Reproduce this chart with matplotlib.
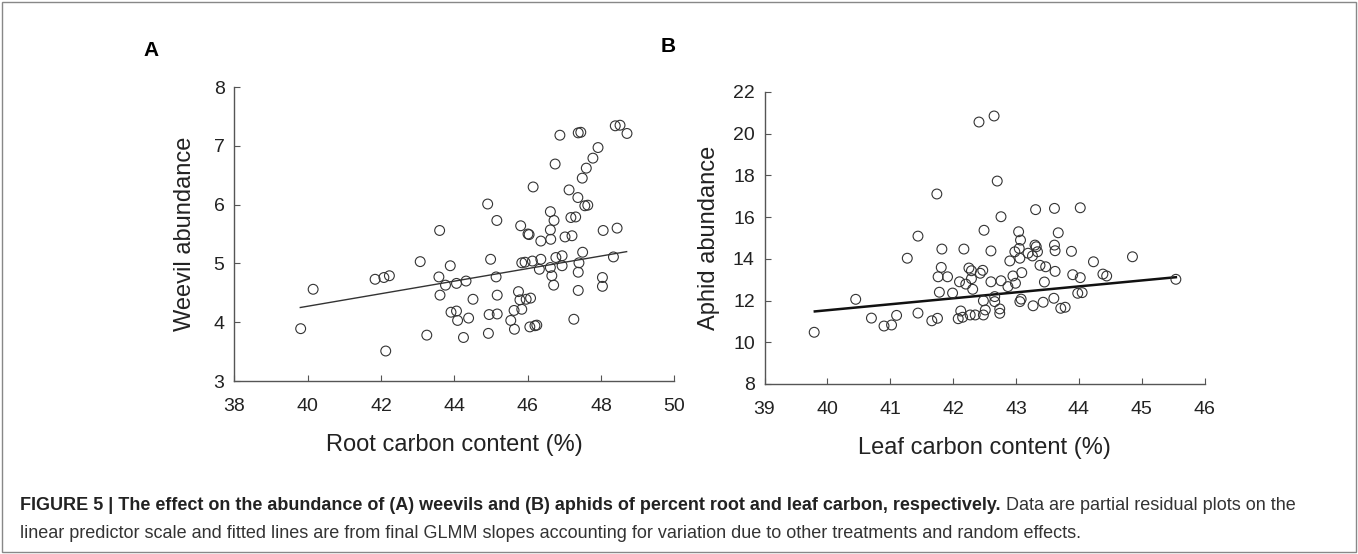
import matplotlib
matplotlib.use("Agg")
import matplotlib.pyplot as plt
from matplotlib.patches import Rectangle

plt.rcParams['font.family'] = ['Liberation Sans', 'DejaVu Sans']

# Panel A: weevils vs root carbon
root_c = [44.91, 45.16, 43.60, 39.81, 40.15, 41.84, 42.08, 42.23, 42.13, 43.07,
          43.89, 43.58, 43.76, 43.61, 44.06, 44.32, 44.99, 45.14, 45.17, 44.51,
          43.91, 44.06, 44.09, 44.39, 44.95, 45.17, 43.25, 44.25, 44.93, 46.88,
          47.38, 47.45, 48.39, 48.52, 48.71, 47.92, 47.78, 46.75, 47.60, 47.49,
          46.15, 47.13, 47.37, 47.56, 47.64, 46.62, 46.72, 47.18, 47.31, 45.81,
          46.01, 46.62, 46.63, 46.36, 47.02, 47.21, 48.06, 48.44, 47.50, 45.84,
          45.93, 46.13, 46.36, 46.77, 46.94, 48.34, 46.32, 46.62, 46.66, 46.71,
          46.94, 47.40, 47.38, 47.38, 48.04, 48.04, 45.75, 45.79, 45.96, 46.08,
          45.63, 45.84, 45.54, 45.64, 46.06, 46.20, 46.25, 47.26, 46.04]
weevil = [6.01, 5.73, 5.56, 3.89, 4.56, 4.73, 4.76, 4.79, 3.51, 5.03,
          4.96, 4.77, 4.63, 4.46, 4.66, 4.70, 5.07, 4.77, 4.46, 4.39,
          4.17, 4.19, 4.03, 4.07, 4.13, 4.14, 3.78, 3.74, 3.81, 7.18,
          7.22, 7.23, 7.34, 7.35, 7.21, 6.97, 6.79, 6.69, 6.62, 6.45,
          6.30, 6.25, 6.12, 5.98, 5.99, 5.88, 5.73, 5.78, 5.79, 5.64,
          5.50, 5.57, 5.41, 5.38, 5.45, 5.47, 5.56, 5.60, 5.19, 5.01,
          5.02, 5.04, 5.07, 5.10, 5.13, 5.11, 4.90, 4.93, 4.79, 4.63,
          4.96, 5.01, 4.85, 4.54, 4.76, 4.61, 4.52, 4.38, 4.39, 4.41,
          4.20, 4.22, 4.03, 3.88, 3.92, 3.94, 3.95, 4.05, 5.49]
fit_a_x = [39.8, 48.7]
fit_a_y = [4.25, 5.20]

# Panel B: aphids vs leaf carbon
leaf_c = [42.41, 42.65, 41.74, 41.44, 42.49, 41.82, 42.17, 39.79, 40.45, 40.70,
          40.90, 41.02, 41.10, 41.44, 41.66, 41.75, 41.27, 41.81, 41.76, 41.91,
          41.78, 41.99, 42.10, 42.20, 42.25, 42.29, 42.29, 42.31, 42.43, 42.47,
          42.12, 42.08, 42.15, 42.27, 42.35, 42.48, 42.48, 42.51, 42.70, 43.31,
          43.61, 44.02, 42.76, 43.04, 43.67, 43.07, 43.30, 43.61, 43.32, 43.62,
          42.60, 42.98, 43.05, 43.06, 43.19, 43.26, 43.34, 42.90, 43.88, 44.23,
          44.85, 43.38, 43.47, 43.62, 43.09, 42.95, 43.90, 44.02, 44.38, 44.44,
          42.60, 42.76, 42.99, 42.87, 43.45, 45.54, 42.66, 42.66, 43.08, 43.06,
          43.43, 43.27, 43.60, 43.98, 44.05, 43.71, 43.78, 42.74, 42.74]
aphid = [20.56, 20.85, 17.11, 15.09, 15.37, 14.47, 14.47, 10.48, 12.06, 11.16,
         10.78, 10.83, 11.29, 11.40, 11.03, 11.15, 14.03, 13.59, 13.14, 13.14,
         12.40, 12.36, 12.90, 12.79, 13.56, 13.43, 13.05, 12.54, 13.31, 13.45,
         11.50, 11.13, 11.20, 11.31, 11.31, 11.99, 11.31, 11.55, 17.73, 16.36,
         16.42, 16.45, 16.02, 15.30, 15.25, 14.90, 14.66, 14.66, 14.58, 14.39,
         14.38, 14.34, 14.50, 14.03, 14.27, 14.14, 14.34, 13.90, 14.36, 13.86,
         14.10, 13.69, 13.62, 13.40, 13.34, 13.18, 13.24, 13.10, 13.27, 13.18,
         12.90, 12.95, 12.83, 12.67, 12.89, 13.02, 12.19, 11.95, 12.07, 11.95,
         11.92, 11.75, 12.11, 12.35, 12.38, 11.63, 11.68, 11.60, 11.39]
fit_b_x = [39.8, 45.54]
fit_b_y = [11.48, 13.12]

xticks_a = [38, 40, 42, 44, 46, 48, 50]
yticks_a = [3, 4, 5, 6, 7, 8]
xticks_b = [39, 40, 41, 42, 43, 44, 45, 46]
yticks_b = [8, 10, 12, 14, 16, 18, 20, 22]

W, H = 1358, 554
fig = plt.figure(figsize=(W / 100, H / 100), dpi=100)

def fx(px):
    return px / W

def fy(py):
    return 1 - py / H

axA = fig.add_axes([fx(234.3), fy(381), (674.3 - 234.3) / W, (381 - 87) / H])
axB = fig.add_axes([fx(764.5), fy(384), (1204.8 - 764.5) / W, (384 - 92) / H])

spine_col = '#555555'
for ax in (axA, axB):
    for s in ('top', 'right'):
        ax.spines[s].set_visible(False)
    for s in ('left', 'bottom'):
        ax.spines[s].set_color(spine_col)
        ax.spines[s].set_linewidth(1.0)
    ax.tick_params(direction='in', length=4, width=0.8, color=spine_col,
                   labelsize=14, labelcolor='#222222')
    ax.tick_params(axis='x', pad=12)
    ax.tick_params(axis='y', pad=7)

axA.scatter(root_c, weevil, s=50, facecolors='none', edgecolors='#333333', linewidths=0.8, zorder=3)
axA.plot(fit_a_x, fit_a_y, color='#333333', lw=1.0, zorder=2)
axA.set_xlim(38, 50)
axA.set_ylim(3, 8)
axA.set_xticks(xticks_a)
axA.set_yticks(yticks_a)
axA.set_xlabel('Root carbon content (%)', fontsize=17, color='#222222', labelpad=14)
axA.set_ylabel('Weevil abundance', fontsize=17, color='#222222', labelpad=13)

axB.scatter(leaf_c, aphid, s=50, facecolors='none', edgecolors='#333333', linewidths=0.8, zorder=3)
axB.plot(fit_b_x, fit_b_y, color='#111111', lw=1.8, zorder=2)
axB.set_xlim(39, 46)
axB.set_ylim(8, 22)
axB.set_xticks(xticks_b)
axB.set_yticks(yticks_b)
axB.set_xlabel('Leaf carbon content (%)', fontsize=17, color='#222222', labelpad=14)
axB.set_ylabel('Aphid abundance', fontsize=17, color='#222222', labelpad=9)

fig.text(fx(143), fy(50), 'A', fontsize=15, fontweight='bold', ha='left', va='center')
fig.text(fx(661), fy(46), 'B', fontsize=15, fontweight='bold', ha='left', va='center')

# frame
fig.add_artist(Rectangle((fx(2), fy(552)), (W - 4) / W, 550 / H, transform=fig.transFigure,
                         fill=False, edgecolor='#888888', lw=1.0))

# caption
bold_txt = ('FIGURE 5 | The effect on the abundance of (A) weevils and (B) aphids of '
            'percent root and leaf carbon, respectively.')
reg_txt = ' Data are partial residual plots on the'
line2 = ('linear predictor scale and fitted lines are from final GLMM slopes accounting '
         'for variation due to other treatments and random effects.')
cap_fs = 13
t1 = fig.text(fx(20), fy(505), bold_txt, fontsize=cap_fs, fontweight='bold', color='#222222',
              ha='left', va='center')
fig.canvas.draw()
bb = t1.get_window_extent(renderer=fig.canvas.get_renderer())
fig.text(bb.x1 / W, fy(505), reg_txt, fontsize=cap_fs, color='#333333', ha='left', va='center')
fig.text(fx(20), fy(533), line2, fontsize=cap_fs, color='#333333', ha='left', va='center')

fig.savefig('out.png', dpi=100)
